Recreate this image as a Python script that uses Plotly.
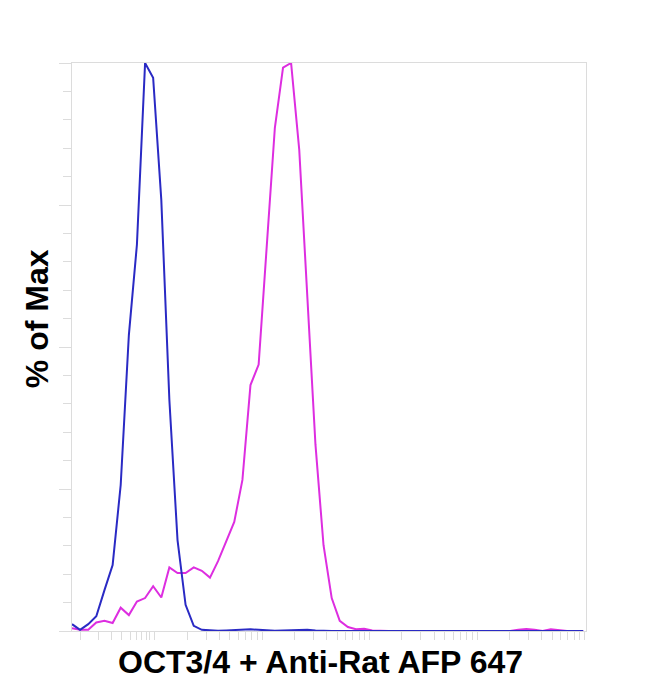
import numpy as np
import plotly.graph_objects as go

# Bin centres in display (log-decade) units
bins = [1.230, 1.305, 1.381, 1.456, 1.532, 1.608, 1.683, 1.759, 1.834, 1.910,
        1.985, 2.061, 2.136, 2.212, 2.287, 2.363, 2.438, 2.514, 2.589, 2.665,
        2.740, 2.816, 2.891, 2.967, 3.042, 3.118, 3.194, 3.269, 3.345, 3.420,
        3.496, 3.571, 3.647, 3.722, 3.798, 3.873, 3.949, 4.024, 4.100, 4.175,
        4.251, 4.326, 4.402, 4.477, 4.553, 4.629, 4.704, 4.780, 4.855, 4.931,
        5.006, 5.082, 5.157, 5.233, 5.308, 5.384, 5.459, 5.535, 5.610, 5.686,
        5.761, 5.837, 5.912, 5.988]

# % of Max, control (blue)
blue_pct = [1.2, 0.2, 1.2, 2.6, 7.2, 11.6, 25.7, 52.1, 68.0, 100.0,
            97.4, 75.9, 40.7, 16.0, 4.6, 0.9, 0.2, 0.1, 0.05, 0.1,
            0.2, 0.3, 0.3, 0.2, 0.1, 0.05, 0.1, 0.15, 0.2, 0.2,
            0.1, 0.0, 0.0, 0.0, 0.0, 0.0, 0.0, 0.0, 0.0, 0.0,
            0.0, 0.0, 0.0, 0.0, 0.0, 0.0, 0.0, 0.0, 0.0, 0.0,
            0.0, 0.0, 0.0, 0.0, 0.0, 0.0, 0.0, 0.0, 0.0, 0.0,
            0.0, 0.0, 0.0, 0.0]

# % of Max, OCT3/4 stained (magenta)
magenta_pct = [0.5, 0.2, 0.2, 1.5, 1.8, 1.4, 4.1, 2.8, 5.2, 5.8,
               7.9, 5.9, 11.2, 10.2, 10.2, 11.2, 10.6, 9.4, 12.3, 15.7,
               19.2, 26.6, 43.3, 46.9, 67.1, 88.6, 99.2, 100.0, 84.7, 58.3,
               32.8, 15.1, 5.8, 1.8, 0.7, 0.3, 0.4, 0.1, 0.0, 0.0,
               0.0, 0.0, 0.0, 0.0, 0.0, 0.0, 0.0, 0.0, 0.0, 0.0,
               0.0, 0.0, 0.0, 0.0, 0.0, 0.2, 0.35, 0.2, 0.0, 0.3,
               0.1, 0.0, 0.0, 0.0]

# Axis ticks (display units)
x_decades = [2, 3, 4, 5, 6]
x_low_ticks = [1.307, 1.477, 1.602, 1.695, 1.772, 1.834, 1.881, 1.921, 1.952]
x_minor = x_low_ticks + [d + np.log10(k) for d in [2, 3, 4, 5] for k in range(2, 10)]
y_major = [0, 25, 50, 75, 100]
y_minor = [5, 10, 15, 20, 30, 35, 40, 45, 55, 60, 65, 70, 80, 85, 90, 95]

BLUE = "#2a2ac4"
MAGENTA = "#dd2ee0"
GRID = "#dcdcdc"

fig = go.Figure()
fig.add_trace(go.Scatter(x=bins, y=magenta_pct, mode="lines",
                         line=dict(color=MAGENTA, width=2), showlegend=False))
fig.add_trace(go.Scatter(x=bins, y=blue_pct, mode="lines",
                         line=dict(color=BLUE, width=2), showlegend=False))

# the page body adds an 8 px offset, so the figure is sized to fit the window
fig.update_layout(
    width=642, height=677,
    margin=dict(l=64, r=64, t=55, b=54),
    paper_bgcolor="white", plot_bgcolor="white",
    font=dict(family="Liberation Sans, Arial, sans-serif", color="black"),
    xaxis=dict(range=[1.2298, 6.014], showgrid=False, zeroline=False,
               showline=True, linecolor=GRID, linewidth=1, mirror=True,
               ticks="outside", tickvals=x_decades, ticklen=8, tickcolor=GRID,
               showticklabels=False,
               minor=dict(tickvals=x_minor, ticks="outside", ticklen=8,
                          tickcolor=GRID, showgrid=False)),
    yaxis=dict(range=[0, 100], showgrid=False, zeroline=False,
               showline=True, linecolor=GRID, linewidth=1, mirror=True,
               ticks="outside", tickvals=y_major, ticklen=12, tickcolor=GRID,
               showticklabels=False,
               minor=dict(tickvals=y_minor, ticks="outside", ticklen=8,
                          tickcolor=GRID, showgrid=False)),
    annotations=[
        dict(text="<b>OCT3/4 + Anti-Rat AFP 647</b>", xref="paper", yref="paper",
             x=0.4838, y=-0.0546, xanchor="center", yanchor="middle",
             showarrow=False, font=dict(size=32, color="black")),
        dict(text="<b>% of Max</b>", xref="paper", yref="paper",
             x=-0.0675, y=0.5496, xanchor="center", yanchor="middle",
             textangle=-90, showarrow=False, font=dict(size=32, color="black")),
    ],
)

fig.write_html("out.html")
